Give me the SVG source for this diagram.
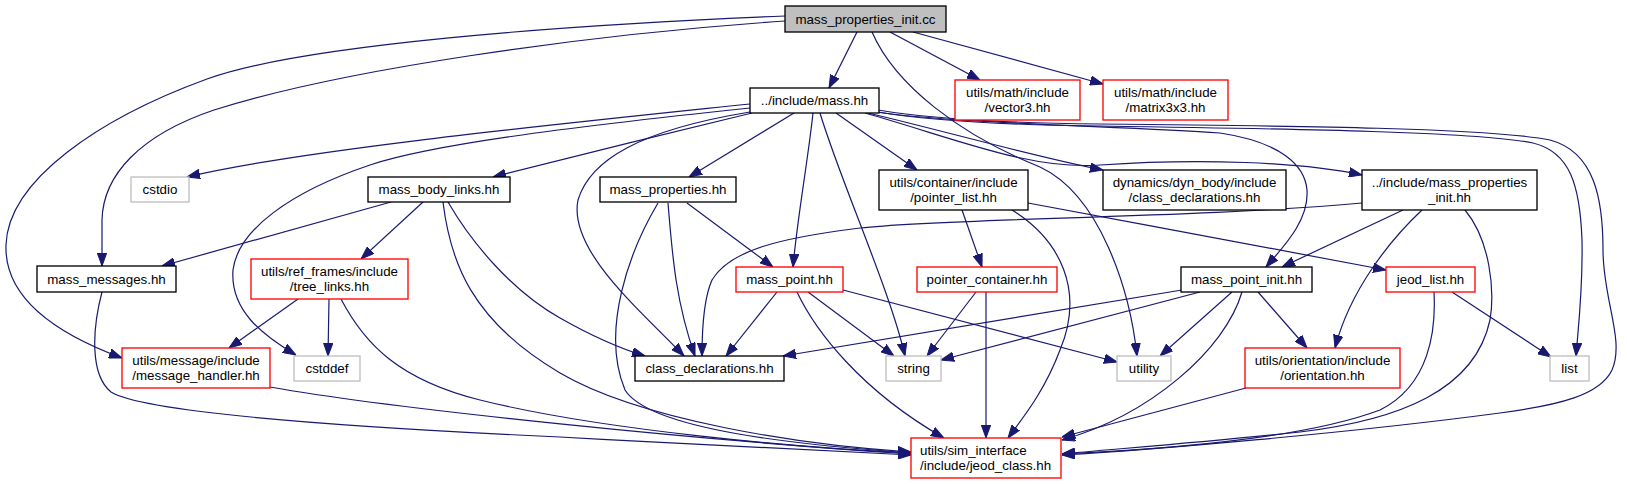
<svg xmlns="http://www.w3.org/2000/svg" width="1627" height="484" viewBox="0 0 1627 484">
<style>
.e{fill:none;stroke:#191970;stroke-width:1.2;marker-end:url(#ah)}
.n rect{fill:#fff;stroke:#000;stroke-width:1.33}
.n.r rect{stroke:#ff0000}
.n.g rect{stroke:#bfbfbf}
.n.root rect{fill:#bfbfbf}
.n text{font-family:"Liberation Sans",Arial,Helvetica,sans-serif;font-size:13.33px;fill:#000;text-anchor:middle}
.n text.l{text-anchor:start}
</style>
<defs>
<marker id="ah" markerUnits="userSpaceOnUse" markerWidth="13" markerHeight="10" viewBox="0 0 13 10" refX="13" refY="5" orient="auto">
<path d="M0,0.3 L13,5 L0,9.7 z" fill="#191970" stroke="#191970" stroke-width="1"/>
</marker>
</defs>
<rect width="1627" height="484" fill="#fff"/>
<g id="edges">
<path class="e" d="M857,32 L829,88"/>
<path class="e" d="M890,32 L980,80"/>
<path class="e" d="M913,32 L1103,84"/>
<path class="e" d="M785,16 C560,25 300,45 207,79 C100,118 8,180 6,245 C4,300 60,335 122,358"/>
<path class="e" d="M785,21 C580,35 340,70 214,110 C140,135 103,175 102,220 L102,266"/>
<path class="e" d="M872,32 C895,85 960,135 1040,167 C1100,195 1130,290 1137,356"/>
<path class="e" d="M750,104 C550,125 300,150 187,177"/>
<path class="e" d="M752,113 C680,130 560,160 493,177"/>
<path class="e" d="M750,108 C560,128 430,145 370,165 C290,192 238,230 233,270 C230,310 262,335 296,355"/>
<path class="e" d="M750,112 C640,130 590,160 578,200 C568,250 640,310 684,356"/>
<path class="e" d="M794,113 L689,177"/>
<path class="e" d="M813,113 C808,160 797,220 793,267"/>
<path class="e" d="M820,113 C840,180 890,290 905,356"/>
<path class="e" d="M836,113 L917,170"/>
<path class="e" d="M868,113 C940,130 1040,158 1103,170"/>
<path class="e" d="M865,113 C960,140 1030,170 1100,165 C1200,158 1300,162 1362,175"/>
<path class="e" d="M876,112 C960,124 1120,126 1220,133 C1280,142 1305,165 1307,190 C1309,220 1285,245 1266,267"/>
<path class="e" d="M878,112 C930,121 1010,125 1100,126 C1300,129 1480,132 1533,143 C1570,152 1580,185 1582,240 C1583,290 1578,330 1576,356"/>
<path class="e" d="M878,110 C930,119 1010,123 1100,124 C1300,126 1490,128 1550,140 C1595,152 1603,200 1603,250 C1603,300 1625,340 1612,370 C1600,395 1560,405 1500,413 C1350,433 1150,450 1062,455"/>
<path class="e" d="M668,203 C672,250 675,300 695,356"/>
<path class="e" d="M687,203 L773,267"/>
<path class="e" d="M658,203 C630,250 600,330 625,390 C650,430 800,445 911,453"/>
<path class="e" d="M391,202 L162,266"/>
<path class="e" d="M423,202 L361,259"/>
<path class="e" d="M443,202 C450,260 470,320 560,373 C640,420 800,445 911,452"/>
<path class="e" d="M448,202 C470,240 510,290 560,318 C590,335 615,347 645,356"/>
<path class="e" d="M298,299 L229,348"/>
<path class="e" d="M329,299 L328,356"/>
<path class="e" d="M341,299 C365,345 400,380 480,400 C600,430 800,448 911,453"/>
<path class="e" d="M102,292 C92,330 90,375 111,392 C140,410 300,425 560,437 C700,445 850,452 911,455"/>
<path class="e" d="M270,387 C400,410 700,440 911,454"/>
<path class="e" d="M777,292 L726,356"/>
<path class="e" d="M808,292 L894,356"/>
<path class="e" d="M843,290 L1117,362"/>
<path class="e" d="M797,292 C815,330 860,390 944,438"/>
<path class="e" d="M962,210 L982,267"/>
<path class="e" d="M1012,210 C1060,240 1085,290 1060,350 C1045,390 1025,415 1008,438"/>
<path class="e" d="M1028,203 C1150,225 1300,255 1386,270"/>
<path class="e" d="M976,292 L927,356"/>
<path class="e" d="M986,292 L986,438"/>
<path class="e" d="M1182,290 L783,356"/>
<path class="e" d="M1200,292 L941,360"/>
<path class="e" d="M1232,292 L1160,356"/>
<path class="e" d="M1258,292 L1307,348"/>
<path class="e" d="M1242,292 C1225,350 1150,415 1062,440"/>
<path class="e" d="M1362,203 C1200,218 950,218 860,228 C780,238 730,250 712,280 C703,300 702,330 702,356"/>
<path class="e" d="M1403,210 L1282,267"/>
<path class="e" d="M1422,210 C1390,240 1350,290 1335,348"/>
<path class="e" d="M1465,210 C1490,240 1495,290 1490,320 C1475,390 1400,420 1300,432 C1200,443 1100,450 1062,454"/>
<path class="e" d="M1452,292 L1551,357"/>
<path class="e" d="M1434,292 C1436,330 1430,385 1380,410 C1300,440 1150,450 1062,454"/>
<path class="e" d="M1246,388 L1062,437"/>
</g>
<g id="node-mass_properties_init_cc" class="n root"><rect x="785" y="6" width="161" height="26"/><text x="865.5" y="23.5">mass_properties_init.cc</text></g>
<g id="node-mass_hh" class="n"><rect x="750" y="88" width="129" height="25"/><text x="814.5" y="105">../include/mass.hh</text></g>
<g id="node-vector3_hh" class="n r"><rect x="955" y="80" width="125" height="40"/><text x="1017.5" y="97">utils/math/include</text><text x="1017.5" y="112">/vector3.hh</text></g>
<g id="node-matrix3x3_hh" class="n r"><rect x="1103" y="80" width="125" height="40"/><text x="1165.5" y="97">utils/math/include</text><text x="1165.5" y="112">/matrix3x3.hh</text></g>
<g id="node-cstdio" class="n g"><rect x="131" y="177" width="58" height="25"/><text x="160" y="194">cstdio</text></g>
<g id="node-mass_body_links_hh" class="n"><rect x="368" y="177" width="142" height="25"/><text x="439" y="194">mass_body_links.hh</text></g>
<g id="node-mass_properties_hh" class="n"><rect x="600" y="177" width="136" height="25"/><text x="668" y="194">mass_properties.hh</text></g>
<g id="node-pointer_list_hh" class="n"><rect x="879" y="170" width="149" height="40"/><text x="953.5" y="187">utils/container/include</text><text x="953.5" y="202">/pointer_list.hh</text></g>
<g id="node-dyn_class_declarations_hh" class="n"><rect x="1103" y="170" width="183" height="40"/><text x="1194.5" y="187">dynamics/dyn_body/include</text><text x="1194.5" y="202">/class_declarations.hh</text></g>
<g id="node-mass_properties_init_hh" class="n"><rect x="1362" y="170" width="175" height="40"/><text x="1449.5" y="187">../include/mass_properties</text><text x="1449.5" y="202">_init.hh</text></g>
<g id="node-mass_messages_hh" class="n"><rect x="37" y="266" width="139" height="26"/><text x="106.5" y="283.5">mass_messages.hh</text></g>
<g id="node-tree_links_hh" class="n r"><rect x="251" y="259" width="157" height="40"/><text x="329.5" y="276">utils/ref_frames/include</text><text x="329.5" y="291">/tree_links.hh</text></g>
<g id="node-mass_point_hh" class="n r"><rect x="736" y="267" width="107" height="25"/><text x="789.5" y="284">mass_point.hh</text></g>
<g id="node-pointer_container_hh" class="n r"><rect x="917" y="267" width="140" height="25"/><text x="987" y="284">pointer_container.hh</text></g>
<g id="node-mass_point_init_hh" class="n"><rect x="1181" y="267" width="131" height="25"/><text x="1246.5" y="284">mass_point_init.hh</text></g>
<g id="node-jeod_list_hh" class="n r"><rect x="1386" y="267" width="89" height="25"/><text x="1430.5" y="284">jeod_list.hh</text></g>
<g id="node-message_handler_hh" class="n r"><rect x="122" y="348" width="148" height="40"/><text x="196" y="365">utils/message/include</text><text x="196" y="380">/message_handler.hh</text></g>
<g id="node-cstddef" class="n g"><rect x="294" y="356" width="66" height="25"/><text x="327" y="373">cstddef</text></g>
<g id="node-class_declarations_hh" class="n"><rect x="635" y="356" width="149" height="25"/><text x="709.5" y="373">class_declarations.hh</text></g>
<g id="node-string" class="n g"><rect x="886" y="356" width="55" height="25"/><text x="913.5" y="373">string</text></g>
<g id="node-utility" class="n g"><rect x="1117" y="356" width="54" height="25"/><text x="1144" y="373">utility</text></g>
<g id="node-orientation_hh" class="n r"><rect x="1245" y="348" width="155" height="40"/><text x="1322.5" y="365">utils/orientation/include</text><text x="1322.5" y="380">/orientation.hh</text></g>
<g id="node-list" class="n g"><rect x="1550" y="356" width="39" height="25"/><text x="1569.5" y="373">list</text></g>
<g id="node-jeod_class_hh" class="n r"><rect x="911" y="438" width="150" height="40"/><text class="l" x="920" y="455">utils/sim_interface</text><text class="l" x="920" y="470">/include/jeod_class.hh</text></g>
</svg>
